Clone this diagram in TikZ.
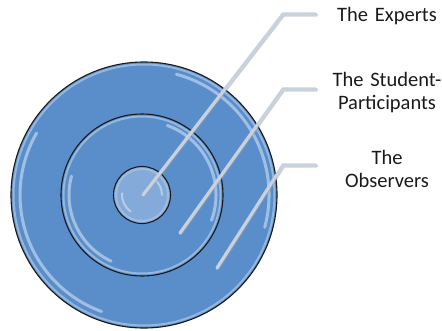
\documentclass[tikz,border=0pt]{standalone}
\usepackage{fontspec}
\setmainfont{Carlito}
\usetikzlibrary{positioning,calc}
\definecolor{RingBlue}{HTML}{5A8ECB}
\definecolor{RingEdge}{HTML}{1A1A1A}
\definecolor{Gloss}{HTML}{E6F1FB}
\definecolor{Leader}{HTML}{C9D1DD}
\definecolor{LeaderDark}{HTML}{9AA3B0}
\definecolor{LabelText}{HTML}{1A1A1A}
\tikzset{
  ring/.style={circle,draw=RingEdge,line width=1.1pt,fill=RingBlue,inner sep=0pt},
  rim/.style={draw=RingBlue!55!white,line width=2pt,opacity=.8},
  gloss/.style={draw=Gloss,line width=3pt,opacity=.5,line cap=round},
  leader/.style={draw=Leader,line width=3.2pt,shorten >=14pt},
  leader shadow/.style={draw=LeaderDark,line width=3.6pt,opacity=.5,shorten >=14pt},
  ring label/.style={align=center,text width=110pt,font=\fontsize{20.5}{23}\selectfont,
    text=LabelText,inner sep=2pt}
}

\begin{document}
\begin{tikzpicture}[x=1pt,y=-1pt]
  \useasboundingbox (0,0) rectangle (442,330);
  % rings
  \node[ring,minimum size=266pt] (observers) at (144,195) {};
  \draw[rim] (observers.center) circle[radius=130.5];
  \draw[gloss] ($(observers.center)+(110:124)$) arc[start angle=110,end angle=210,radius=124];
  \draw[gloss] ($(observers.center)+(-75:125)$) arc[start angle=-75,end angle=15,radius=125];
  \node[ring,minimum size=162pt] (students) at (142,195) {};
  \draw[rim] (students.center) circle[radius=78.5];
  \draw[gloss] ($(students.center)+(115:73)$) arc[start angle=115,end angle=195,radius=73];
  \draw[gloss] ($(students.center)+(-70:74)$) arc[start angle=-70,end angle=20,radius=74];
  \node[ring,minimum size=57pt,fill=RingBlue!75!white] (experts) at (142,195) {};
  \draw[rim] (experts.center) circle[radius=26];
  \draw[gloss,line width=2pt] ($(experts.center)+(125:20)$) arc[start angle=125,end angle=185,radius=20];
  \draw[gloss,line width=2pt] ($(experts.center)+(-50:20)$) arc[start angle=-50,end angle=0,radius=20];

  % labels
  \node[ring label] (expertsLabel) at (387,16) {The Experts};
  \node[ring label] (studentsLabel) at (387,93) {The Student-\\Participants};
  \node[ring label] (observersLabel) at (387,169) {The\\Observers};

  % leader lines
  \coordinate (expertsTip) at (143,195);
  \coordinate (expertsBend) at (283,14);
  \coordinate (studentsTip) at (180,233);
  \coordinate (studentsBend) at (283,89);
  \coordinate (observersTip) at (217,268);
  \coordinate (observersBend) at (283,165);
  \draw[leader shadow,line cap=round] ([shift={(.6,.8)}]expertsTip) -- ([shift={(.6,.8)}]expertsBend) -- ([shift={(.6,.8)}]expertsBend -| expertsLabel.west);
  \draw[leader,line cap=round] (expertsTip) -- (expertsBend) -- (expertsBend -| expertsLabel.west);
  \draw[leader shadow,line cap=round] ([shift={(.6,.8)}]studentsTip) -- ([shift={(.6,.8)}]studentsBend) -- ([shift={(.6,.8)}]studentsBend -| studentsLabel.west);
  \draw[leader,line cap=round] (studentsTip) -- (studentsBend) -- (studentsBend -| studentsLabel.west);
  \draw[leader shadow,line cap=round] ([shift={(.6,.8)}]observersTip) -- ([shift={(.6,.8)}]observersBend) -- ([shift={(.6,.8)}]observersBend -| observersLabel.west);
  \draw[leader,line cap=round] (observersTip) -- (observersBend) -- (observersBend -| observersLabel.west);
\end{tikzpicture}
\end{document}
